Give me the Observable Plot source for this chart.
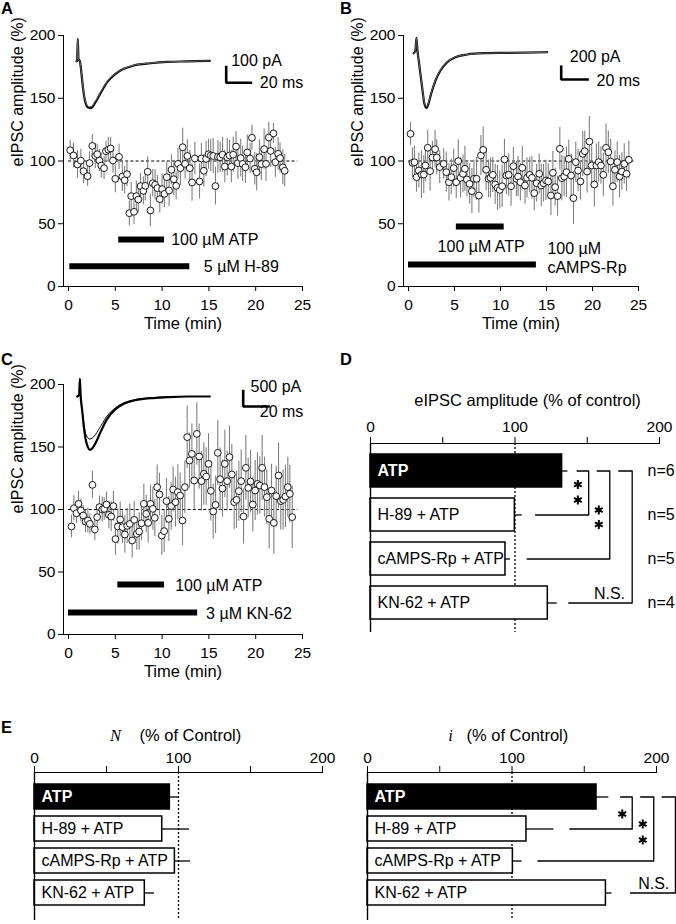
<!DOCTYPE html>
<html><head><meta charset="utf-8">
<script src="https://cdn.jsdelivr.net/npm/d3@7"></script>
<script src="https://cdn.jsdelivr.net/npm/@observablehq/plot@0.6"></script>
<style>
html,body{margin:0;padding:0;background:#fff;}
#fig{position:relative;width:676px;height:924px;overflow:hidden;background:#fff;font-family:"Liberation Sans",Arial,Helvetica,sans-serif;}
#fig svg{position:absolute;left:0;top:0;background:transparent !important;overflow:visible;max-width:none;}
.plbl{position:absolute;font-weight:bold;font-size:16.5px;line-height:1;}
</style></head>
<body><div id="fig"></div>
<script>
// ---------------- DATA ----------------
const timeTicks = [0, 5, 10, 15, 20, 25];
const ampTicks = [0, 50, 100, 150, 200];

// Panel A (H-89)
const tA = [0.18,0.54,0.96,1.32,1.6,2.04,2.25,2.54,2.86,3.07,3.3,3.5,3.8,4.0,4.25,4.5,4.75,5.0,5.4,5.75,6.0,6.25,6.5,6.7,7.0,7.25,7.46,7.7,8.0,8.2,8.46,8.75,9.0,9.25,9.5,9.75,10.0,10.25,10.5,10.75,11.0,11.25,11.5,11.7,11.96,12.2,12.46,12.7,12.96,13.2,13.5,14.0,14.2,14.46,14.7,14.96,15.2,15.46,15.7,15.96,16.2,16.46,16.7,16.96,17.2,17.4,17.6,17.9,18.1,18.4,18.6,18.9,19.1,19.4,19.6,19.9,20.1,20.4,20.6,20.9,21.1,21.4,21.6,21.9,22.1,22.4,22.6,22.9,23.1];
const vA = [108.6,104.4,97.2,100.3,91.9,87.9,98.3,112,104,105.4,100.4,96.4,94.3,107.8,109,110,100.4,85.8,103.3,87.6,84.7,89.5,58.4,72,59.5,72,69.3,80,76.2,80.2,91.4,60.6,82.3,81,78.4,69.6,77.6,73.8,87.1,76.5,93,85.5,80.2,97.7,94.3,111,97.7,104,94.3,82.9,102,83.7,102,92.2,101.7,105.4,104.4,104,80,103.3,103,105,95.6,103,104.4,95.6,105,111.5,98.3,102.3,97.7,95,106.8,102,118.5,93.8,91,103,97.5,109.4,97.7,118.7,108,122,99,105.7,102.3,95,92.2];
const eA = [8,10,11,9,10,8,9,9,10,8,9,10,9,8,10,9,10,11,10,12,11,10,10,11,10,12,11,10,11,12,12,13,11,12,10,11,12,11,12,13,12,13,11,12,14,15,12,13,14,15,13,14,12,13,14,12,13,14,15,13,12,14,13,15,12,13,14,12,13,15,14,13,14,12,10,13,15,14,13,16,14,12,13,8,12,13,12,14,13];
const drugNamesA = ["100 µM ATP", "5 µM H-89"];
const drugStartA = [5.37, 0.14];
const drugEndA = [10.26, 12.96];
const drugLevelA = [37.5, 16.2];

// Panel B (cAMPS-Rp)
const tB = [0.22,0.43,0.65,0.87,1.12,1.41,1.66,1.84,2.09,2.35,2.6,2.89,3.07,3.39,3.82,4.11,4.4,4.65,4.91,5.19,5.41,5.66,5.92,6.13,6.35,6.64,6.89,7.11,7.4,7.65,7.87,8.12,8.44,8.7,8.91,9.16,9.42,9.67,9.92,10.18,10.43,10.64,10.89,11.15,11.4,11.73,11.91,12.16,12.37,12.66,12.88,13.17,13.42,13.67,13.93,14.21,14.43,14.68,14.94,15.19,15.48,15.69,15.94,16.2,16.45,16.67,16.92,17.17,17.42,17.68,17.93,18.18,18.43,18.69,18.94,19.16,19.41,19.66,19.91,20.2,20.42,20.67,20.92,21.18,21.47,21.72,21.97,22.22,22.44,22.69,22.94,23.19,23.45,23.7,23.95];
const vB = [121.6,98.5,99,87.1,92.4,89.2,89.2,96.4,110.5,91.9,102.8,109.4,102.8,95.1,97.7,91.1,83.1,87.1,94.3,83.1,99.9,86.6,89.8,93.8,85.3,81.8,76,85.8,85.8,72.5,104.4,108.9,93,85.8,86.6,89,81.3,78.6,77,79.9,101.2,88.4,89,79.9,95.9,85.8,87.6,83.1,94.6,80.5,86.6,89,86.6,74.4,82.3,89.8,80.5,82.3,84.5,83.7,72.5,90.6,79.2,72,109.7,86.3,87.6,91.1,101.7,88.4,70.4,99.1,92.4,83.7,105.7,107.8,91.6,115.5,96.4,81.3,96.4,99.1,96.4,89,110.5,107,99.6,79.9,93,99.1,87.6,91.6,97.7,89.8,100.9];
const eB = [9,12,13,12,14,19,15,13,14,16,13,15,14,13,12,16,15,14,15,13,17,16,15,18,14,16,18,15,17,14,16,18,17,15,16,14,16,18,15,17,16,15,17,16,15,14,16,15,17,15,16,14,17,14,15,16,17,15,16,14,16,17,15,16,17,18,16,20,15,17,21,16,17,15,18,16,17,20,16,18,17,16,15,17,19,17,18,16,15,16,17,15,16,14,15];
const drugNamesB = ["100 µM ATP", "100 µM\ncAMPS-Rp"];
const drugStartB = [5.2, 0.0];
const drugEndB = [10.4, 13.9];
const drugLevelB = [47.8, 17.5];

// Panel C (KN-62)
const tC = [0.32,0.57,0.85,1.07,1.32,1.57,1.82,2.07,2.28,2.56,2.81,3.06,3.31,3.6,3.81,4.06,4.31,4.56,4.8,5.02,5.27,5.52,5.77,6.02,6.27,6.55,6.8,7.02,7.3,7.55,7.8,8.05,8.3,8.51,8.76,9.01,9.22,9.47,9.72,9.97,10.22,10.47,10.72,10.97,11.18,11.43,11.68,11.93,12.18,12.43,12.68,12.93,13.18,13.43,13.71,13.96,14.21,14.46,14.71,14.96,15.21,15.46,15.71,15.95,16.2,16.45,16.7,16.95,17.2,17.45,17.7,17.95,18.2,18.45,18.7,18.95,19.2,19.45,19.69,19.94,20.19,20.44,20.69,20.94,21.19,21.44,21.69,21.94,22.19,22.44,22.68,22.93,23.18,23.43,23.65,23.9];
const vC = [86.4,101,97,104.5,99.2,95.2,90.4,91.2,88.5,119.7,84,93.9,101.9,100,100.5,104,95.7,94.4,102.7,76.3,86.4,92,85.9,80,86.9,88.5,75.2,91.7,80.5,82.4,89,104.5,96.5,89.3,104.5,100.5,93.3,117.9,112,79.2,82.7,106.7,92.5,102.7,116,105.9,113.9,111.2,91.2,117.9,157.9,139.2,144.5,123.2,160.5,142.4,122.7,128.5,126.4,136.5,114.9,98.4,103.7,145.3,124.3,116.8,136.5,122.7,141.9,128,105.9,107.7,114.7,122.7,94.4,133.3,117.3,122.4,104,115.2,120.5,119.2,133.3,117.9,109.9,92.5,115.2,89.3,110.7,127.2,106.7,107.7,110.4,117.9,112.5,93.9];
const eC = [9,10,8,10,9,8,9,10,8,11,9,10,9,10,9,10,11,12,12,13,14,14,13,15,14,16,14,15,13,15,14,16,15,16,15,17,15,18,17,16,17,18,18,19,18,20,22,18,20,21,25,22,24,23,25,26,24,25,23,24,24,22,23,26,25,23,27,24,25,24,22,23,24,25,22,26,24,25,22,24,25,23,26,24,22,24,21,25,24,26,23,24,25,24,23,25];
const drugNamesC = ["100 µM ATP", "3 µM KN-62"];
const drugStartC = [5.27, 0.0];
const drugEndC = [10.26, 13.8];
const drugLevelC = [40, 17.6];

// Current traces (ms, pA)
const traceA_ms = [0,0.5,1.0,1.5,2.6,3.3,4.4,5.6,7.2,8.7,10.3,12.1,14.6,18.5,23.6,30,36.4,44.1,56.9,69.7,85.1,102.6];
const traceA_ctrl = [0,4,131,14,0,-35,-114,-192,-251,-271,-276,-270,-241,-188,-123,-74,-45,-25,-12,-4,-1,2];
const traceA_atp = [0,4,128,14,0,-33,-110,-186,-244,-264,-268,-263,-235,-183,-120,-72,-44,-24,-11,-4,-1,2];
const traceB_ms = [0,1.2,1.9,2.65,3.4,4.8,6.3,7.7,9.2,10.6,12.5,15.7,19.3,24.1,30.1,38.6,50.6,67.5,96.4];
const traceB_ctrl = [0,38,219,38,-81,-295,-533,-724,-781,-724,-581,-390,-248,-129,-57,-19,0,5,14];
const traceB_atp = [0,38,215,38,-78,-288,-520,-708,-765,-710,-570,-383,-243,-126,-56,-19,0,5,14];
const traceC_ms = [0,1.5,2,2.5,3.75,5,6.25,8,9.5,11.25,13.75,17.5,22.5,28.75,35,42.5,55,67.5,82.5,99.5];
const traceC_atp = [0,60,530,80,-420,-920,-1270,-1520,-1600,-1560,-1400,-1070,-670,-380,-220,-120,-50,-20,0,0];
const traceC_ctrl = [0,60,530,80,-420,-820,-1100,-1240,-1280,-1250,-1140,-900,-580,-340,-190,-100,-40,-10,0,0];

// Summary bars
const groups = ["ATP", "H-89 + ATP", "cAMPS-Rp + ATP", "KN-62 + ATP"];
const ampMean = [132.6, 99.9, 93.4, 122.7];
const ampErr = [4, 5.1, 3.5, 6.5];
const ampN = ["n=6", "n=5", "n=5", "n=4"];
const nMean = [94, 88.7, 97.5, 76.6];
const nErr = [6.7, 18.9, 10.8, 6.7];
const iMean = [158.5, 110, 100.6, 165];
const iErr = [8.5, 19, 6.4, 4.2];
const barTicks = [0, 50, 100, 150, 200];

// ---------------- LAYOUT ----------------
const W = 676, H = 924;
const FONT = '"Liberation Sans", Arial, Helvetica, sans-serif';
const SERIF = '"Liberation Serif", "Times New Roman", serif';
const baseStyle = {fontFamily: FONT, fontSize: "15.5px", color: "black", background: "transparent", overflow: "visible"};
const fig = document.getElementById("fig");
function add(svg) {
  svg.style.position = "absolute"; svg.style.left = "0px"; svg.style.top = "0px";
  svg.style.background = "transparent"; svg.style.overflow = "visible";
  fig.appendChild(svg);
}

function timePanel(c) {
  const pts = c.t.map((t, k) => ({t, v: c.v[k], e: c.e[k]}));
  const drugs = c.names.map((n, k) => ({n, s: c.start[k], e: c.end[k], y: c.level[k]}));
  const marks = [
    Plot.ruleY([100], {x1: 0, x2: 24.5, strokeDasharray: "3,2.2", strokeWidth: 1.2}),
    Plot.ruleX(pts, {x: "t", y1: d => d.v - d.e, y2: d => d.v + d.e, stroke: "#808080", strokeWidth: 1.1}),
    Plot.dot(pts, {x: "t", y: "v", r: 3.4, fill: "white", stroke: "black", strokeWidth: 0.9}),
    Plot.ruleY(drugs, {y: "y", x1: "s", x2: "e", strokeWidth: 6}),
    Plot.text(["Time (min)"], {frameAnchor: "bottom", lineAnchor: "middle", dy: 37, fontSize: 16.5}),
    Plot.text(["eIPSC amplitude (%)"], {frameAnchor: "left", lineAnchor: "middle", dx: -46, dy: c.ylabDy, rotate: -90, fontSize: 16})
  ];
  c.labels.forEach((lb, k) => {
    marks.push(Plot.text([drugs[k].n], {x: lb.x, y: lb.y, textAnchor: lb.anchor, lineAnchor: "middle", lineHeight: 1.17, fontSize: 16}));
  });
  return Plot.plot({
    width: W, height: H,
    marginLeft: c.box.left, marginRight: W - c.box.right, marginTop: c.box.top, marginBottom: H - c.box.bottom,
    style: baseStyle,
    x: {domain: [0, 25], insetLeft: 5, ticks: timeTicks, tickSize: 5, tickPadding: 7, label: null, line: true},
    y: {domain: [0, 200], ticks: ampTicks, tickSize: 5, tickPadding: 3, label: null, line: true},
    marks
  });
}

function insetPlot(c) {
  const {l, t, r, b} = c.box;
  const xd = [(l - c.x0) / c.pxMs, (r - c.x0) / c.pxMs];
  const yd = [(c.y0 - b) / c.pxPA, (c.y0 - t) / c.pxPA];
  const marks = c.traces.map(tr => Plot.line(tr.ms.map((m, k) => ({m, i: tr.pA[k]})),
    {x: "m", y: "i", stroke: tr.stroke, strokeWidth: tr.w, curve: "monotone-x"}));
  const bx = (c.bar.x - c.x0) / c.pxMs, by = (c.y0 - c.bar.y) / c.pxPA;
  marks.push(Plot.line([[bx, by + c.bar.pA], [bx, by], [bx + c.bar.ms, by]],
    {x: d => d[0], y: d => d[1], strokeWidth: 2.6, strokeLinejoin: "miter", strokeLinecap: "butt"}));
  marks.push(Plot.text([c.bar.pA + " pA"], {x: bx, y: by, dx: c.bar.paPos[0], dy: c.bar.paPos[1], textAnchor: "start", lineAnchor: "middle", fontSize: 16}));
  marks.push(Plot.text([c.bar.ms + " ms"], {x: bx, y: by, dx: c.bar.msPos[0], dy: c.bar.msPos[1], textAnchor: "start", lineAnchor: "middle", fontSize: 16}));
  return Plot.plot({
    width: W, height: H, marginLeft: l, marginRight: W - r, marginTop: t, marginBottom: H - b,
    style: baseStyle, x: {domain: xd, axis: null}, y: {domain: yd, axis: null}, marks
  });
}

function barPanel(c) {
  const rows = groups.map((g, k) => ({g, m: c.mean[k], e: c.err[k]}));
  const isATP = d => d.g === "ATP";
  const notATP = d => d.g !== "ATP";
  const marks = [
    Plot.ruleX([100], {strokeDasharray: "2,2", strokeWidth: 1.3}),
    Plot.barX(rows, {filter: notATP, x: "m", y: "g", fill: "white", stroke: "black", strokeWidth: 1.5}),
    Plot.barX(rows, {filter: isATP, x: "m", y: "g", fill: "black", stroke: "black", strokeWidth: 1.5}),
    Plot.ruleY(rows, {y: "g", x1: "m", x2: d => d.m + d.e, strokeWidth: 1.3}),
    Plot.ruleX([0], {strokeWidth: 1.4}),
    Plot.text(rows, {filter: isATP, x: 0, y: "g", text: "g", dx: 7, textAnchor: "start", fill: "white", fontWeight: "bold", fontSize: 16}),
    Plot.text(rows, {filter: notATP, x: 0, y: "g", text: "g", dx: 7, textAnchor: "start", fill: "black", fontSize: 16})
  ];
  (c.brackets || []).forEach(br => {
    const pts = [{x: br.a, y: "ATP"}, {x: br.v, y: "ATP"}, {x: br.v, y: br.to}, {x: br.b, y: br.to}];
    marks.push(Plot.line(pts, {x: "x", y: "y", strokeWidth: 1.3}));
  });
  (c.stars || []).forEach(s => {
    marks.push(Plot.dot([s], {x: s.x, frameAnchor: "top", dy: s.py - c.box.top, symbol: "asterisk", r: 4.2, stroke: "black", strokeWidth: 2}));
  });
  (c.notes || []).forEach(n => {
    marks.push(Plot.text([n.text], {x: n.x, frameAnchor: "top", lineAnchor: "middle", dy: n.py - c.box.top, textAnchor: n.anchor || "middle",
      fontSize: n.size || 16, fontFamily: n.font || FONT, fontStyle: n.italic ? "italic" : "normal"}));
  });
  if (c.nLabels) marks.push(Plot.text(rows.map((r, k) => ({g: r.g, n: c.nLabels[k]})), {x: c.nX, y: "g", text: "n", textAnchor: "start", fontSize: 16}));
  return Plot.plot({
    width: W, height: H,
    marginLeft: c.box.left, marginRight: W - c.box.right, marginTop: c.box.top, marginBottom: H - c.box.bottom,
    style: baseStyle,
    x: {domain: [0, 200], axis: "top", ticks: barTicks, tickFormat: d => (d % 100 === 0 ? d : ""), tickSize: 7, tickPadding: c.tickPad, label: null, line: true},
    y: {domain: groups, axis: null, insetTop: c.inTop, insetBottom: c.inBot, paddingInner: c.pi, paddingOuter: c.po},
    marks
  });
}

// ---------------- BUILD ----------------
add(timePanel({t: tA, v: vA, e: eA, names: drugNamesA, start: drugStartA, end: drugEndA, level: drugLevelA,
  box: {left: 63, right: 302, top: 35, bottom: 286}, ylabDy: 5.5,
  labels: [{x: 10.97, y: 37.5, anchor: "start"}, {x: 14.46, y: 16.2, anchor: "start"}]}));
add(timePanel({t: tB, v: vB, e: eB, names: drugNamesB, start: drugStartB, end: drugEndB, level: drugLevelB,
  box: {left: 403, right: 638, top: 35, bottom: 286}, ylabDy: 5.5,
  labels: [{x: 7.9, y: 31.9, anchor: "middle"}, {x: 15.1, y: 22.9, anchor: "start"}]}));
add(timePanel({t: tC, v: vC, e: eC, names: drugNamesC, start: drugStartC, end: drugEndC, level: drugLevelC,
  box: {left: 63, right: 302, top: 384, bottom: 634}, ylabDy: 4,
  labels: [{x: 11.4, y: 40, anchor: "start"}, {x: 14.7, y: 17.6, anchor: "start"}]}));

add(insetPlot({x0: 76, y0: 60.7, pxMs: 1.3, pxPA: 0.17, box: {l: 66, t: 28, r: 300, b: 122},
  traces: [{ms: traceA_ms, pA: traceA_ctrl, stroke: "black", w: 2.2}, {ms: traceA_ms, pA: traceA_atp, stroke: "#666", w: 1}],
  bar: {x: 225.7, y: 82.3, ms: 20, pA: 100, paPos: [5, -21.6], msPos: [33.6, 0.4]}}));
add(insetPlot({x0: 413.3, y0: 52.7, pxMs: 1.383, pxPA: 0.07, box: {l: 405, t: 28, r: 640, b: 122},
  traces: [{ms: traceB_ms, pA: traceB_ctrl, stroke: "black", w: 2.2}, {ms: traceB_ms, pA: traceB_atp, stroke: "#666", w: 1}],
  bar: {x: 560.7, y: 79, ms: 20, pA: 200, paPos: [8.6, -22.3], msPos: [35.3, 1]}}));
add(insetPlot({x0: 76.7, y0: 396, pxMs: 1.333, pxPA: 0.0333, box: {l: 66, t: 370, r: 300, b: 462},
  traces: [{ms: traceC_ms, pA: traceC_atp, stroke: "black", w: 2.2}, {ms: traceC_ms, pA: traceC_ctrl, stroke: "black", w: 1}],
  bar: {x: 242.7, y: 406, ms: 20, pA: 500, paPos: [7.3, -19.3], msPos: [16.6, 5.7]}}));

add(barPanel({mean: ampMean, err: ampErr, box: {left: 370, right: 659, top: 443, bottom: 632},
  inTop: 5, inBot: 8, pi: 0.25, po: 0.125, tickPad: 5, nLabels: ampN, nX: 191.7,
  brackets: [{a: 143, v: 151, b: 114.2, to: "H-89 + ATP"}, {a: 156.9, v: 165.6, b: 108.4, to: "cAMPS-Rp + ATP"}, {a: 171.8, v: 181.1, b: 137.2, to: "KN-62 + ATP"}],
  stars: [{x: 143.5, py: 484}, {x: 143.5, py: 499.5}, {x: 158, py: 509.5}, {x: 158, py: 524}],
  notes: [{text: "eIPSC amplitude (% of control)", x: 108.7, py: 400, size: 16.5}, {text: "N.S.", x: 165.4, py: 593}]}));

add(barPanel({mean: nMean, err: nErr, box: {left: 34, right: 322, top: 772, bottom: 920},
  inTop: 8.5, inBot: 11.5, pi: 0.22, po: 0.11, tickPad: 3,
  notes: [{text: "N", x: 56.25, py: 735, font: SERIF, italic: true, size: 16.5},
          {text: "(% of Control)", x: 72.9, py: 735, anchor: "start", size: 16.5}]}));

add(barPanel({mean: iMean, err: iErr, box: {left: 367, right: 656, top: 772, bottom: 920},
  inTop: 8.5, inBot: 11.5, pi: 0.22, po: 0.11, tickPad: 3,
  brackets: [{a: 175.1, v: 183.2, b: 140, to: "H-89 + ATP"}, {a: 189, v: 198.1, b: 117.9, to: "cAMPS-Rp + ATP"}, {a: 203.9, v: 213.1, b: 182, to: "KN-62 + ATP"}],
  stars: [{x: 176.3, py: 813.5}, {x: 190.5, py: 823.5}, {x: 190.5, py: 839.5}],
  notes: [{text: "i", x: 57.4, py: 735, font: SERIF, italic: true, size: 16.5},
          {text: "(% of Control)", x: 68.5, py: 735, anchor: "start", size: 16.5},
          {text: "N.S.", x: 198.1, py: 883.3}]}));

// Panel letters
[["A", 1, -0.5], ["B", 340, -0.5], ["C", 1, 351], ["D", 340, 351], ["E", 1, 719.3]].forEach(([t, x, y]) => {
  const d = document.createElement("div");
  d.className = "plbl"; d.textContent = t; d.style.left = x + "px"; d.style.top = y + "px";
  fig.appendChild(d);
});
</script></body></html>
